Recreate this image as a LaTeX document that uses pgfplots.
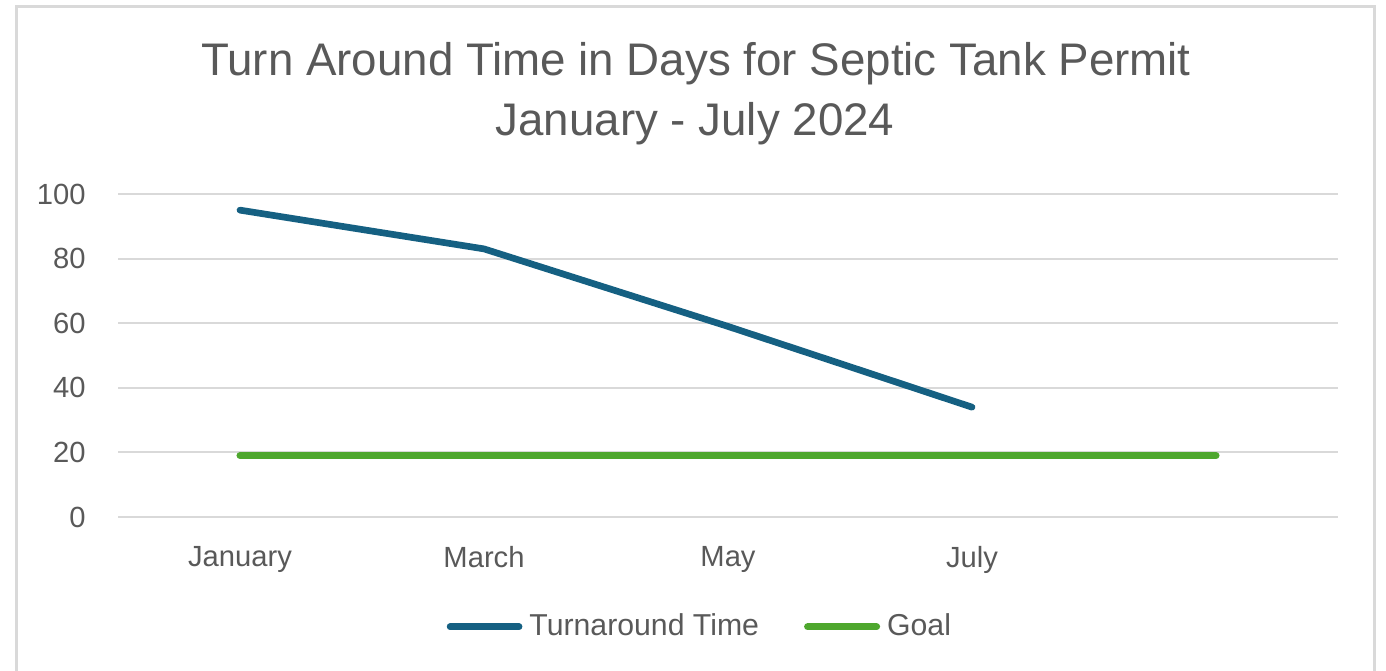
\documentclass[border=0pt]{standalone}
\usepackage{fontspec}
\setmainfont{Liberation Sans}
\usepackage{pgfplots}
\pgfplotsset{compat=1.18}
\definecolor{tblue}{HTML}{156082}
\definecolor{tgreen}{HTML}{4EA72E}
\definecolor{tgray}{HTML}{595959}
\definecolor{gridc}{HTML}{D9D9D9}
\begin{document}
\begin{tikzpicture}[x=1cm,y=1cm]
\path[use as bounding box] (0,0) rectangle (13.86,6.71);
\draw[gridc, line width=0.3mm] (0.165,-0.5) rectangle (13.745,6.645);
\node[anchor=base, text=tgray, inner sep=0pt, font=\fontsize{13}{15.6}\selectfont] at (6.96,5.95) {Turn Around Time in Days for Septic Tank Permit};
\node[anchor=base, text=tgray, inner sep=0pt, font=\fontsize{13}{15.6}\selectfont] at (6.95,5.35) {January - July 2024};
\begin{axis}[
  at={(1.18cm,1.54cm)}, anchor=south west,
  scale only axis, width=12.2cm, height=3.23cm,
  xmin=-0.5, xmax=4.5, ymin=0, ymax=100,
  xtick={0,1,2,3}, xticklabels={January,March,May,July},
  ytick={0,20,40,60,80,100},
  ymajorgrids, grid style={gridc, line width=0.6pt},
  axis line style={draw=none}, tick style={draw=none},
  clip=false,
  tick label style={text=tgray, font=\fontsize{8.3}{10}\selectfont},
  /pgf/number format/assume math mode=true,
  yticklabel style={xshift=-0.2cm},
  xticklabel style={yshift=-0.17cm},
  legend style={at={(0.479,-0.34)}, anchor=center, draw=none, fill=none,
    font=\fontsize{8.6}{10}\selectfont, text=tgray,
    /tikz/every even column/.append style={column sep=0.38cm}},
  legend columns=2,
  legend image code/.code={\draw[#1, line cap=round] (0.03cm,0cm) -- (0.72cm,0cm);},
]
\addplot[tblue, line width=1.9pt, line cap=round, line join=round] coordinates {(0,95) (1,83) (2,59) (3,34)};
\addlegendentry{Turnaround Time}
\addplot[tgreen, line width=2pt, line cap=round] coordinates {(0,19) (1,19) (2,19) (3,19) (4,19)};
\addlegendentry{Goal}
\end{axis}
\end{tikzpicture}
\end{document}
